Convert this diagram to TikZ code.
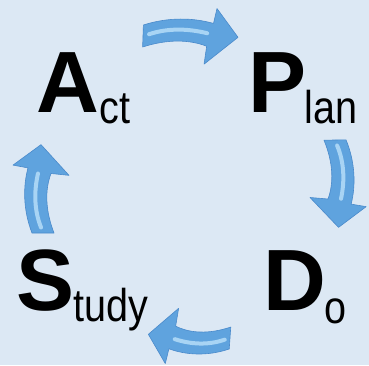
\documentclass[tikz,border=0pt]{standalone}
\usepackage{fontspec}
\setmainfont{Liberation Sans}
\newfontfamily\narrowsans[FakeStretch=0.86]{Liberation Sans}
\usetikzlibrary{positioning}
\definecolor{bgblue}{HTML}{DCE8F4}
\definecolor{arrowblue}{HTML}{5FA3DE}
\definecolor{arrowlight}{HTML}{A8D4F4}
\definecolor{arrowdark}{HTML}{4A8ACB}
\tikzset{
  bigletter/.style={font=\fontsize{87}{87}\selectfont\bfseries, inner sep=0pt, anchor=base west},
  smallword/.style={font=\narrowsans\fontsize{46}{46}\selectfont, inner sep=0pt, anchor=base west},
  pics/fatarrow/.style={code={
    \fill[arrowblue, draw=arrowdark, line width=0.6pt, line join=round]
      (0,11) .. controls (25,20) and (50,20) .. (70,15)
      -- (73,30) -- (95,2) -- (62,-26) -- (64,-8)
      .. controls (47,-2) and (25,-2) .. (0,-11) -- cycle;
    \draw[arrowlight, line width=4pt, line cap=round]
      (6,2) .. controls (25,9) and (45,9) .. (64,5);
  }}
}
\begin{document}
\begin{tikzpicture}[x=1pt,y=1pt]
\fill[bgblue] (0,0) rectangle (369,365);

% letters
\node[bigletter] (A) at (36,253) {A};
\node[smallword] (ct) at ([yshift=-11pt]A.base east) {ct};
\node[bigletter] (P) at (248,253) {P};
\node[smallword] (lan) at ([xshift=-2pt,yshift=-11pt]P.base east) {lan};
\node[bigletter] (D) at (263,55) {D};
\node[smallword] (o) at ([xshift=-2pt,yshift=-13pt]D.base east) {o};
\node[bigletter] (S) at (16,55) {S};
\node[smallword] (tudy) at ([xshift=-1pt,yshift=-11pt]S.base east) {tudy};

% arrows
\pic[rotate=-2] at (143,329) {fatarrow};
\pic[rotate=-89,xscale=0.92] at (335,225) {fatarrow};
\pic[rotate=176,xscale=0.86] at (230,27) {fatarrow};
\pic[rotate=90,xscale=0.93] at (43,132) {fatarrow};
\end{tikzpicture}
\end{document}
